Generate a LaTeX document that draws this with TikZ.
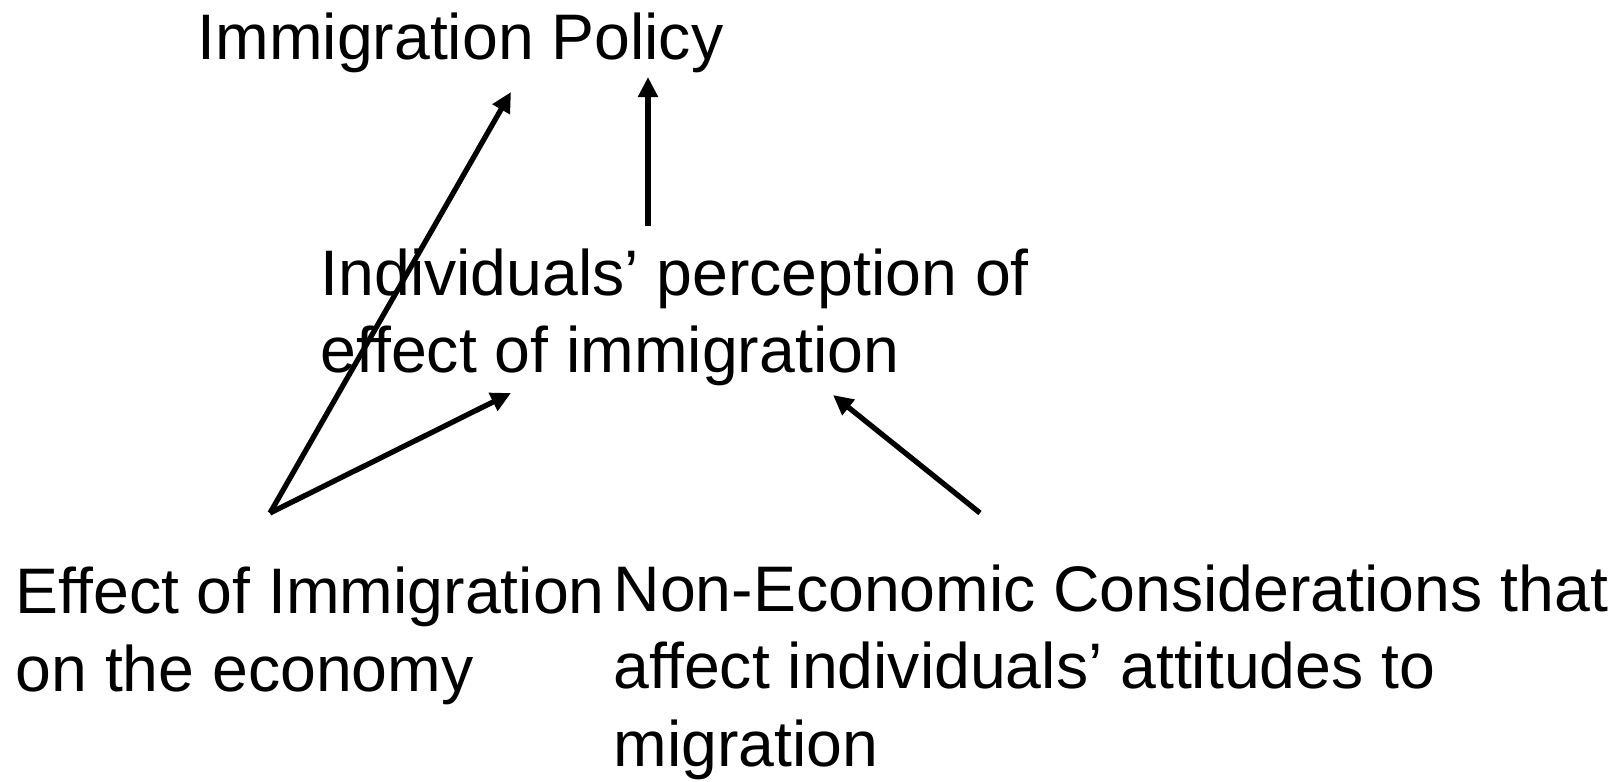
\documentclass[tikz,border=0pt]{standalone}
\usepackage{fontspec}
\setmainfont{Liberation Sans}
\usetikzlibrary{arrows.meta}

\begin{document}
\begin{tikzpicture}[x=0.01cm, y=-0.01cm,
		labeltext/.style={anchor=base west, inner sep=0pt, align=left, font=\fontsize{18.3}{22}\selectfont},
		link/.style={line width=1.5pt, -{Triangle[length=0.2cm, width=0.19cm]}}]
			%%%%% START %%%%%
			
			\useasboundingbox (0, 0) rectangle (1617, 782);
			
			% base anchor sits on the last line
			\node[labeltext] (policy) at (197, 60) {Immigration Policy};
			\node[labeltext] (perception) at (320, 373) {Individuals’ perception of\\effect of immigration};
			\node[labeltext] (economy) at (15, 691) {Effect of Immigration\\on the economy};
			\node[labeltext] (noneconomic) at (613, 766) {Non-Economic Considerations that\\affect individuals’ attitudes to\\migration};
			
			\coordinate (economy top) at (270, 513);
			\coordinate (noneconomic top) at (980, 513);
			\coordinate (perception top) at (648, 226);
			\coordinate (policy left) at (511, 92);
			\coordinate (policy right) at (648, 77);
			\coordinate (perception left) at (511, 393);
			\coordinate (perception right) at (833, 395);
			
			\draw[link] (economy top) -- (policy left);
			\draw[link] (perception top) -- (policy right);
			\draw[link] (economy top) -- (perception left);
			\draw[link] (noneconomic top) -- (perception right);
			
			%%%%% END %%%%%
		\end{tikzpicture}
\end{document}
